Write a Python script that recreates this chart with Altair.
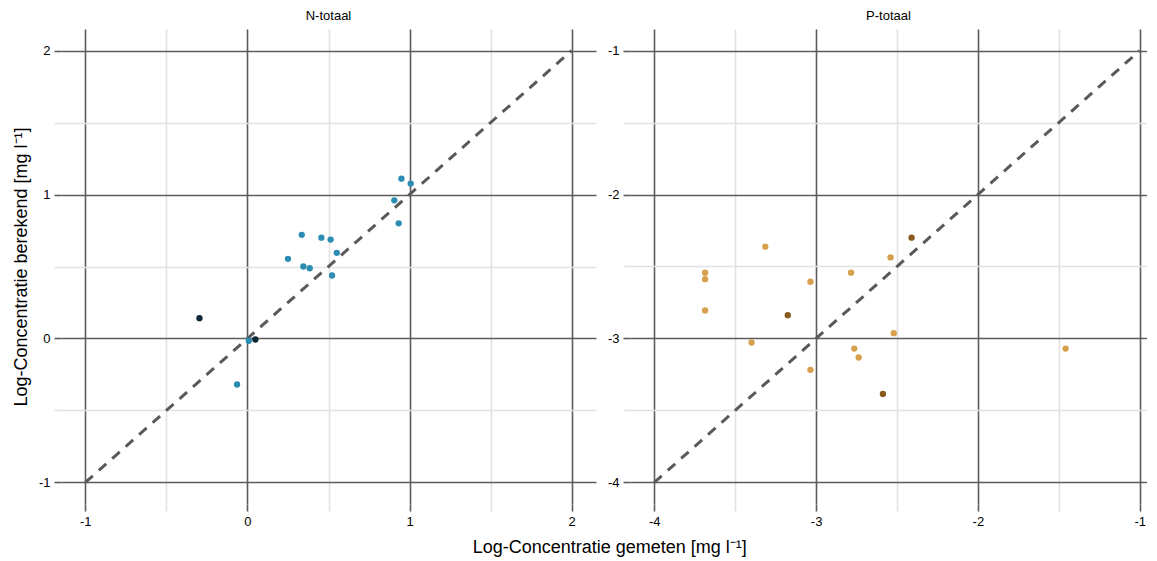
import altair as alt
import pandas as pd

# N-totaal (log concentrations, mg/l)
n_gemeten = [0.95, 1.007, 0.906, 0.933, 0.335, 0.456, 0.513, 0.551, 0.25, 0.345, 0.384, 0.522, -0.296, 0.008, 0.049, -0.064]
n_berekend = [1.11, 1.076, 0.96, 0.80, 0.72, 0.70, 0.687, 0.595, 0.553, 0.50, 0.488, 0.4375, 0.141, -0.016, -0.007, -0.32]
n_groep = ["a", "a", "a", "a", "a", "a", "a", "a", "a", "a", "a", "a", "b", "a", "b", "a"]

# P-totaal
p_gemeten = [-3.686, -3.686, -3.686, -3.314, -3.035, -3.175, -3.399, -3.035, -2.784, -2.54, -2.41, -2.52, -2.764, -2.737, -2.587, -1.458]
p_berekend = [-2.543, -2.588, -2.805, -2.362, -2.606, -2.838, -3.028, -3.218, -2.543, -2.437, -2.30, -2.963, -3.07, -3.132, -3.385, -3.07]
p_groep = ["a", "a", "a", "a", "a", "b", "a", "a", "a", "a", "b", "a", "a", "a", "b", "a"]

n_lijn = [-1, 2]
p_lijn = [-4, -1]

n_ticks = [-1, -0.5, 0, 0.5, 1, 1.5, 2]
p_ticks = [-4, -3.5, -3, -2.5, -2, -1.5, -1]

FONT = "Liberation Sans"
MAJOR = "#5c5c5c"
MINOR = "#e2e2e2"


def make_axis(vals, title=None):
    kw = dict(
        values=vals,
        labelExpr="datum.value % 1 === 0 ? toString(datum.value) : ''",
        grid=True,
        gridColor={"condition": {"test": "datum.value % 1 !== 0", "value": MINOR}, "value": MAJOR},
        gridWidth=1.6,
        tickColor={"condition": {"test": "datum.value % 1 !== 0", "value": MINOR}, "value": MAJOR},
        tickWidth=1.6,
        tickSize=7,
        domain=False,
        labelFont=FONT,
        labelFontSize=13,
        labelColor="black",
        labelPadding=4,
    )
    if title is not None:
        kw.update(title=title, titleFont=FONT, titleFontSize=18, titleFontWeight="normal",
                  titleColor="black", titlePadding=8)
    else:
        kw.update(title=None)
    return alt.Axis(**kw)


def panel(gx, gy, grp, lijn, ticks, xdom, ydom, colors, title, width, ytitle=None):
    df = pd.DataFrame({"x": gx, "y": gy, "g": grp})
    dl = pd.DataFrame({"x": lijn, "y": lijn})
    xs = alt.Scale(domain=xdom, nice=False, zero=False)
    ys = alt.Scale(domain=ydom, nice=False, zero=False)
    line = alt.Chart(dl).mark_line(strokeDash=[10, 8], strokeWidth=3, color="#595959").encode(
        x=alt.X("x:Q", scale=xs, axis=make_axis(ticks)),
        y=alt.Y("y:Q", scale=ys, axis=make_axis(ticks, ytitle)),
    )
    pts = alt.Chart(df).mark_circle(size=40, opacity=1).encode(
        x=alt.X("x:Q", scale=xs),
        y=alt.Y("y:Q", scale=ys),
        color=alt.Color("g:N", scale=alt.Scale(domain=["a", "b"], range=colors), legend=None),
    )
    return alt.layer(line, pts).properties(
        width=width, height=475,
        title=alt.TitleParams(title, font=FONT, fontSize=13, fontWeight="normal", color="black", offset=6),
    )


left = panel(n_gemeten, n_berekend, n_groep, n_lijn, n_ticks, [-1.15, 2.15], [-1.15, 2.15],
             ["#2c8cb2", "#0c2838"], "N-totaal", 535, "Log-Concentratie berekend  [mg l⁻¹]")
right = panel(p_gemeten, p_berekend, p_groep, p_lijn, p_ticks, [-4.15, -0.955], [-4.15, -0.85],
              ["#d6a04c", "#8a5a1c"], "P-totaal", 517)

chart = alt.hconcat(left, right, spacing=11).resolve_scale(x="independent", y="independent", color="independent").properties(
    title=alt.TitleParams("Log-Concentratie gemeten  [mg l⁻¹]", orient="bottom", anchor="middle",
                          font=FONT, fontSize=18, fontWeight="normal", color="black", offset=11, dx=30),
    padding={"left": 4, "top": 2, "right": 0, "bottom": 0},
).configure_view(stroke=None)

chart.save("out.html", embed_options={"renderer": "svg", "actions": False})
